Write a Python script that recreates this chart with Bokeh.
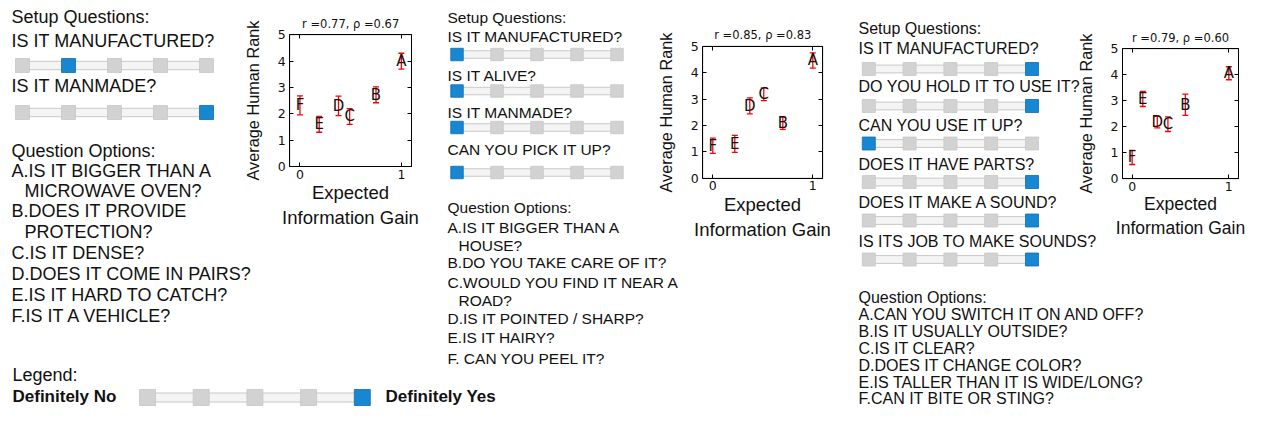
from bokeh.plotting import figure
from bokeh.models import (Range1d, LinearAxis, FixedTicker, Whisker, TeeHead,
                          ColumnDataSource, BoxAnnotation, Label)
from bokeh.core.properties import value
from bokeh.embed import file_html
from bokeh.resources import INLINE

# ---------------- data ----------------
letters = ["A", "B", "C", "D", "E", "F"]

# panel 1
setup1_questions = ["IS IT MANUFACTURED?", "IS IT MANMADE?"]
setup1_answers = [1, 4]
options1_lines = ["A.IS IT BIGGER THAN A", "MICROWAVE OVEN?", "B.DOES IT PROVIDE",
                  "PROTECTION?", "C.IS IT DENSE?", "D.DOES IT COME IN PAIRS?",
                  "E.IS IT HARD TO CATCH?", "F.IS IT A VEHICLE?"]
options1_indent = [0, 1, 0, 1, 0, 0, 0, 0]
s1_gain = [1.0, 0.75, 0.49, 0.38, 0.19, 0.0]
s1_rank = [4.0, 2.72, 1.9, 2.3, 1.6, 2.32]
s1_err = [0.3, 0.3, 0.3, 0.37, 0.3, 0.36]
s1_title = "r =0.77, ρ =0.67"

# panel 2
setup2_questions = ["IS IT MANUFACTURED?", "IS IT ALIVE?", "IS IT MANMADE?", "CAN YOU PICK IT UP?"]
setup2_answers = [0, 0, 0, 0]
options2_lines = ["A.IS IT BIGGER THAN A", "HOUSE?", "B.DO YOU TAKE CARE OF IT?",
                  "C.WOULD YOU FIND IT NEAR A", "ROAD?", "D.IS IT POINTED / SHARP?",
                  "E.IS IT HAIRY?", "F. CAN YOU PEEL IT?"]
options2_indent = [0, 1, 0, 0, 1, 0, 0, 0]
s2_gain = [1.0, 0.70, 0.51, 0.37, 0.22, 0.0]
s2_rank = [4.46, 2.08, 3.18, 2.74, 1.3, 1.23]
s2_err = [0.29, 0.23, 0.24, 0.3, 0.32, 0.29]
s2_title = "r =0.85, ρ =0.83"

# panel 3
setup3_questions = ["IS IT MANUFACTURED?", "DO YOU HOLD IT TO USE IT?", "CAN YOU USE IT UP?",
                    "DOES IT HAVE PARTS?", "DOES IT MAKE A SOUND?", "IS ITS JOB TO MAKE SOUNDS?"]
setup3_answers = [4, 4, 0, 4, 4, 4]
options3_lines = ["A.CAN YOU SWITCH IT ON AND OFF?", "B.IS IT USUALLY OUTSIDE?",
                  "C.IS IT CLEAR?", "D.DOES IT CHANGE COLOR?",
                  "E.IS TALLER THAN IT IS WIDE/LONG?", "F.CAN IT BITE OR STING?"]
options3_indent = [0, 0, 0, 0, 0, 0]
s3_gain = [1.0, 0.55, 0.37, 0.26, 0.11, 0.0]
s3_rank = [4.06, 2.85, 2.1, 2.18, 3.07, 0.82]
s3_err = [0.25, 0.41, 0.28, 0.22, 0.29, 0.27]
s3_title = "r =0.79, ρ =0.60"

legend_answer = 4
x_ticks = [0, 1]
y_ticks = [0, 1, 2, 3, 4, 5]

# ---------------- layout ----------------
W, H = 1247, 407
X0, Y0 = 0, 0
SANS = "Liberation Sans"
INK = "#111111"
BLUE = "#1787d2"
BLUE_EDGE = "#0d6cb0"
GRAY = "#d2d2d2"
XLO, XHI, YLO, YHI = -0.1, 1.1, 0.0, 5.0
BASELINE_FIX = 0.33  # fraction of font size the renderer puts below the requested baseline

p = figure(width=W, height=H, x_range=Range1d(X0, X0 + W), y_range=Range1d(Y0 + H, Y0),
           x_axis_location=None, y_axis_location=None, min_border=0,
           output_backend="svg", toolbar_location=None)
p.grid.visible = False
p.outline_line_color = None


def add_text(xs, ys, texts, size, bold=False):
    p.text(x=xs, y=[y - BASELINE_FIX * size for y in ys], text=texts, text_font=value(SANS),
           text_font_size=f"{size}px", text_baseline="alphabetic", text_align="left",
           text_color=INK, text_font_style="bold" if bold else "normal")


def add_slider(x_first, spacing, yc, size, selected, track_h):
    xs = [x_first + i * spacing for i in range(5)]
    p.rect(x=(xs[0] + xs[-1]) / 2, y=yc, width=xs[-1] - xs[0], height=track_h,
           fill_color="#f4f4f4", line_color="#c8c8c8", line_width=1)
    fills = [BLUE if i == selected else GRAY for i in range(5)]
    edges = [BLUE_EDGE if i == selected else "#c6c6c6" for i in range(5)]
    p.rect(x=xs, y=[yc] * 5, width=size, height=size, fill_color=fills,
           line_color=edges, line_width=0.8)


def add_panel(x, font, setup_base, q_bases, questions, answers, s_first, s_space, s_size,
              s_yc, opt_head, opt_bases, lines, indents, indent_px):
    add_text([x], [setup_base], ["Setup Questions:"], font)
    add_text([x] * len(questions), q_bases, questions, font)
    for yc, a in zip(s_yc, answers):
        add_slider(s_first, s_space, yc, s_size, a, s_size * 0.6)
    add_text([x], [opt_head], ["Question Options:"], font)
    add_text([x + indent_px * i for i in indents], opt_bases, lines, font)


add_panel(11, 18, 22, [46, 91], setup1_questions, setup1_answers, 22, 46, 14, [65, 112],
          156, [176, 196, 216, 237, 258, 279, 300, 321], options1_lines, options1_indent, 13)
add_panel(447, 15.5, 21.7, [41, 80, 117.3, 154], setup2_questions, setup2_answers,
          456.5, 40, 12.5, [54, 90.5, 127, 172],
          211.7, [231.7, 250, 267, 287, 305, 323, 342, 363], options2_lines, options2_indent, 11)
add_panel(858, 16, 33, [53.3, 91.7, 130, 169, 207.7, 246.7], setup3_questions, setup3_answers,
          868.3, 40.8, 13, [68.5, 105.5, 143, 181.5, 220, 259],
          302, [319, 336, 353, 370, 387, 403.5], options3_lines, options3_indent, 0)

# legend
add_text([12], [380], ["Legend:"], 18)
add_text([12], [402], ["Definitely No"], 17, bold=True)
add_slider(147, 53.7, 397, 16, legend_answer, 9)
add_text([385], [402], ["Definitely Yes"], 17, bold=True)


def scatter_panel(name, gain, rank, err, title, left, right, top, bottom, xlab_size):
    # map the sub-plot's data box onto its place on the page through extra ranges
    kx = (XHI - XLO) / (right - left)
    ky = (YHI - YLO) / (bottom - top)
    xr, yr = "sx" + name, "sy" + name
    p.extra_x_ranges[xr] = Range1d(XLO - (left - X0) * kx, XHI + (X0 + W - right) * kx)
    p.extra_y_ranges[yr] = Range1d(YLO - (Y0 + H - bottom) * ky, YHI + (top - Y0) * ky)

    p.add_layout(BoxAnnotation(left=XLO, right=XHI, bottom=YLO, top=YHI,
                               x_range_name=xr, y_range_name=yr,
                               fill_color="white", fill_alpha=1.0,
                               line_color="black", line_width=1, level="underlay"))

    def style(ax):
        ax.major_tick_in = 4
        ax.major_tick_out = 0
        ax.minor_tick_line_color = None
        ax.major_label_text_font = "DejaVu Sans"
        ax.major_label_text_font_size = "12.5px"
        ax.major_label_text_color = INK
        ax.axis_label_text_font = SANS
        ax.axis_label_text_font_style = "normal"
        ax.axis_label_text_color = INK
        ax.axis_line_color = "black"
        ax.major_tick_line_color = "black"

    xa = LinearAxis(x_range_name=xr, y_range_name=yr, fixed_location=YLO, bounds=(XLO, XHI),
                    ticker=FixedTicker(ticks=x_ticks), axis_label="Expected\nInformation Gain")
    style(xa)
    xa.major_label_standoff = 3
    xa.axis_label_text_font_size = f"{xlab_size}px"
    xa.axis_label_text_line_height = 1.2
    xa.axis_label_standoff = 0
    p.add_layout(xa, "below")

    ya = LinearAxis(x_range_name=xr, y_range_name=yr, fixed_location=XLO, bounds=(YLO, YHI),
                    ticker=FixedTicker(ticks=y_ticks), axis_label="Average Human Rank")
    style(ya)
    ya.major_label_standoff = 4
    ya.axis_label_text_font_size = "16.3px"
    ya.axis_label_standoff = 13
    p.add_layout(ya, "left")

    ta = LinearAxis(x_range_name=xr, y_range_name=yr, fixed_location=YHI, bounds=(XLO, XHI),
                    ticker=FixedTicker(ticks=x_ticks),
                    major_label_overrides={t: "" for t in x_ticks})
    style(ta)
    p.add_layout(ta, "above")
    ra = LinearAxis(x_range_name=xr, y_range_name=yr, fixed_location=XHI, bounds=(YLO, YHI),
                    ticker=FixedTicker(ticks=y_ticks),
                    major_label_overrides={t: "" for t in y_ticks})
    style(ra)
    p.add_layout(ra, "right")

    p.add_layout(Label(x=(XLO + XHI) / 2, y=YHI, x_range_name=xr, y_range_name=yr,
                       text=title, text_align="center", text_baseline="alphabetic",
                       y_offset=11, text_font="DejaVu Sans", text_font_size="11.5px",
                       text_color=INK))

    src = ColumnDataSource(dict(x=gain, y=rank, label=letters,
                                upper=[r + e for r, e in zip(rank, err)],
                                lower=[r - e for r, e in zip(rank, err)]))
    p.add_layout(Whisker(base="x", upper="upper", lower="lower", source=src,
                         x_range_name=xr, y_range_name=yr,
                         line_color="red", line_width=1.3, level="glyph",
                         upper_head=TeeHead(size=6, line_color="red", line_width=1.3),
                         lower_head=TeeHead(size=6, line_color="red", line_width=1.3)))
    p.text(x="x", y="y", text="label", source=src, x_range_name=xr, y_range_name=yr,
           text_align="center", text_baseline="middle", text_font=value("DejaVu Sans"),
           text_font_size="15px", text_color=INK, level="overlay")


scatter_panel("1", s1_gain, s1_rank, s1_err, s1_title, 289.3, 411, 34.3, 166, 18.5)
scatter_panel("2", s2_gain, s2_rank, s2_err, s2_title, 702.3, 822.3, 45.7, 177.7, 18.5)
scatter_panel("3", s3_gain, s3_rank, s3_err, s3_title, 1122, 1238, 48.3, 178.3, 17.5)

open("out.html", "w").write(file_html(p, INLINE))
